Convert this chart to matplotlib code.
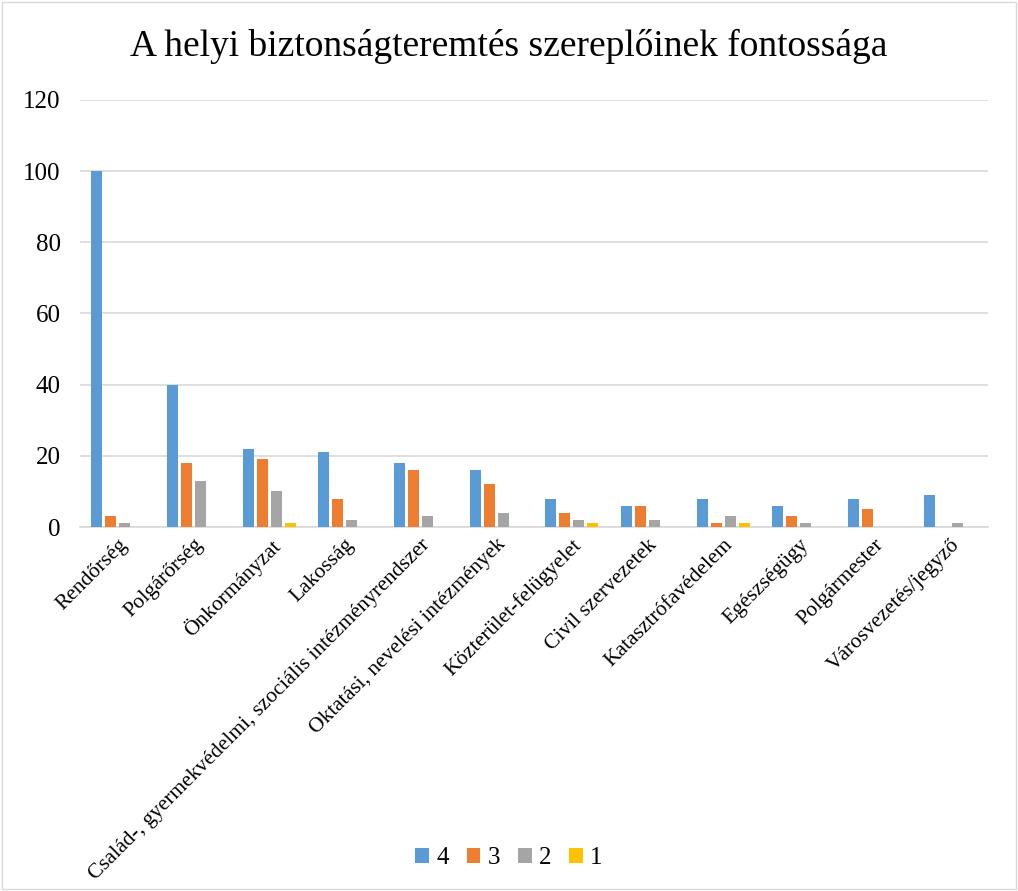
import matplotlib.pyplot as plt
import numpy as np

plt.rcParams['font.family'] = ['Liberation Serif', 'DejaVu Serif']

categories = ['Rendőrség', 'Polgárőrség', 'Önkormányzat', 'Lakosság',
              'Család-, gyermekvédelmi, szociális intézményrendszer',
              'Oktatási, nevelési intézmények', 'Közterület-felügyelet',
              'Civil szervezetek', 'Katasztrófavédelem', 'Egészségügy',
              'Polgármester', 'Városvezetés/jegyző']
vals_4 = [100, 40, 22, 21, 18, 16, 8, 6, 8, 6, 8, 9]
vals_3 = [3, 18, 19, 8, 16, 12, 4, 6, 1, 3, 5, 0]
vals_2 = [1, 13, 10, 2, 3, 4, 2, 2, 3, 1, 0, 1]
vals_1 = [0, 0, 1, 0, 0, 0, 1, 0, 1, 0, 0, 0]
series_names = ['4', '3', '2', '1']
colors = ['#5b9bd5', '#ed7d31', '#a5a5a5', '#ffc000']

fig = plt.figure(figsize=(10.18, 8.91), dpi=100)
ax = fig.add_axes([0.0786, 0.4085, 0.892, 0.4793])

x = np.arange(len(categories))
width = 0.145
step = 0.185
for i, (vals, name, c) in enumerate(zip([vals_4, vals_3, vals_2, vals_1], series_names, colors)):
    ax.bar(x + (i - 1.5) * step, vals, width, label=name, color=c, zorder=3)

ax.set_xlim(-0.5, len(categories) - 0.5)
ax.set_ylim(0, 120)
ax.set_yticks(range(0, 121, 20))
ax.grid(axis='y', color='#d9d9d9', linewidth=1.2, zorder=0)
for s in ['top', 'right', 'left']:
    ax.spines[s].set_visible(False)
ax.spines['bottom'].set_color('#d9d9d9')
ax.spines['bottom'].set_linewidth(1.2)
ax.tick_params(axis='both', length=0, colors='black')
ax.tick_params(axis='y', pad=14, labelsize=18)
ax.tick_params(axis='x', pad=6)
ax.set_xticks(x)
ax.set_xticklabels(categories, rotation=45, ha='right', rotation_mode='anchor', fontsize=15.5)

fig.suptitle('A helyi biztonságteremtés szereplőinek fontossága', fontsize=27, y=0.968)

fig.legend(loc='center', bbox_to_anchor=(0.5, 1 - 858 / 891), ncol=4, frameon=False,
           fontsize=18, handlelength=0.55, handleheight=0.55, handletextpad=0.3,
           columnspacing=0.7)

border = plt.Rectangle((0.002, 0.002), 0.996, 0.996, transform=fig.transFigure,
                       fill=False, edgecolor='#d9d9d9', linewidth=1)
fig.patches.append(border)

fig.savefig('out.png', dpi=100)
